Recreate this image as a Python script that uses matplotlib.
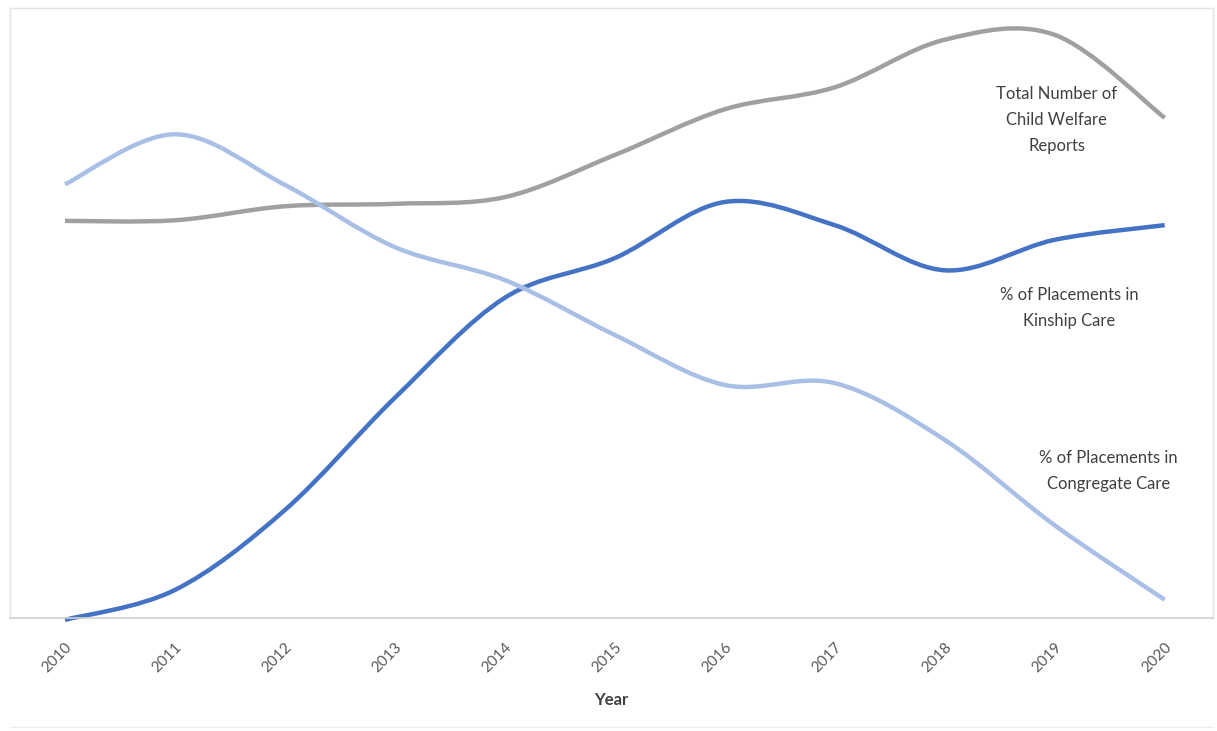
import matplotlib.pyplot as plt
from matplotlib.path import Path
from matplotlib.patches import PathPatch

years = [2010, 2011, 2012, 2013, 2014, 2015, 2016, 2017, 2018, 2019, 2020]
total_reports = [65.1, 65.2, 67.5, 67.9, 69.0, 75.9, 83.4, 87.0, 94.8, 95.6, 82.0]
congregate_care = [71.1, 79.3, 71.0, 60.8, 55.4, 46.4, 38.2, 38.5, 29.2, 15.2, 3.0]
kinship_care = [-0.3, 4.6, 17.7, 36.1, 52.5, 59.0, 68.2, 64.4, 57.0, 62.0, 64.4]

series = [
    (total_reports, "#a0a0a0", "Total Number of\nChild Welfare\nReports", 2019.02, 81.6),
    (kinship_care, "#4472c4", "% of Placements in\nKinship Care", 2019.13, 50.8),
    (congregate_care, "#aabfe5", "% of Placements in\nCongregate Care", 2019.49, 24.1),
]

plt.rcParams["font.family"] = ["Lato", "DejaVu Sans"]


def smooth_path(x, y):
    # Excel-style smoothed line: cubic Bezier segments through the points
    n = len(x)
    verts = [(x[0], y[0])]
    codes = [Path.MOVETO]
    for i in range(n - 1):
        x0, y0 = (x[i - 1], y[i - 1]) if i > 0 else (x[i], y[i])
        x3, y3 = (x[i + 2], y[i + 2]) if i + 2 < n else (x[i + 1], y[i + 1])
        c1 = (x[i] + (x[i + 1] - x0) / 6, y[i] + (y[i + 1] - y0) / 6)
        c2 = (x[i + 1] - (x3 - x[i]) / 6, y[i + 1] - (y3 - y[i]) / 6)
        verts += [c1, c2, (x[i + 1], y[i + 1])]
        codes += [Path.CURVE4, Path.CURVE4, Path.CURVE4]
    return Path(verts, codes)


fig = plt.figure(figsize=(12.17, 7.31), dpi=100)
ax = fig.add_axes([10 / 1217, 113 / 731, 1203 / 1217, 610 / 731])

for values, color, label, lx, ly in series:
    ax.add_patch(PathPatch(smooth_path(years, values), facecolor="none", edgecolor=color,
                           linewidth=3.2, capstyle="butt", clip_on=False))
    ax.text(lx, ly, label, ha="center", va="center", fontsize=12, color="#404040",
            linespacing=1.75)

ax.set_xlim(2009.5, 2020.44)
ax.set_ylim(0, 100)
ax.set_xticks(years)
ax.set_xticklabels([str(y) for y in years], rotation=45, ha="right",
                   rotation_mode="anchor", fontsize=11, color="#595959")
ax.tick_params(axis="x", length=0, pad=16)
ax.set_yticks([])
ax.set_xlabel("Year", fontsize=12, fontweight="bold", color="#404040", labelpad=12)

for side in ["left", "top", "right"]:
    ax.spines[side].set_color("#e3e3e3")
    ax.spines[side].set_linewidth(1)
ax.spines["bottom"].set_color("#d0d0d0")
ax.spines["bottom"].set_linewidth(1.2)

fig.add_artist(plt.Line2D([10 / 1217, 1213 / 1217], [4 / 731, 4 / 731], color="#eeeeee", linewidth=1))

plt.savefig("out.png", format="png")
